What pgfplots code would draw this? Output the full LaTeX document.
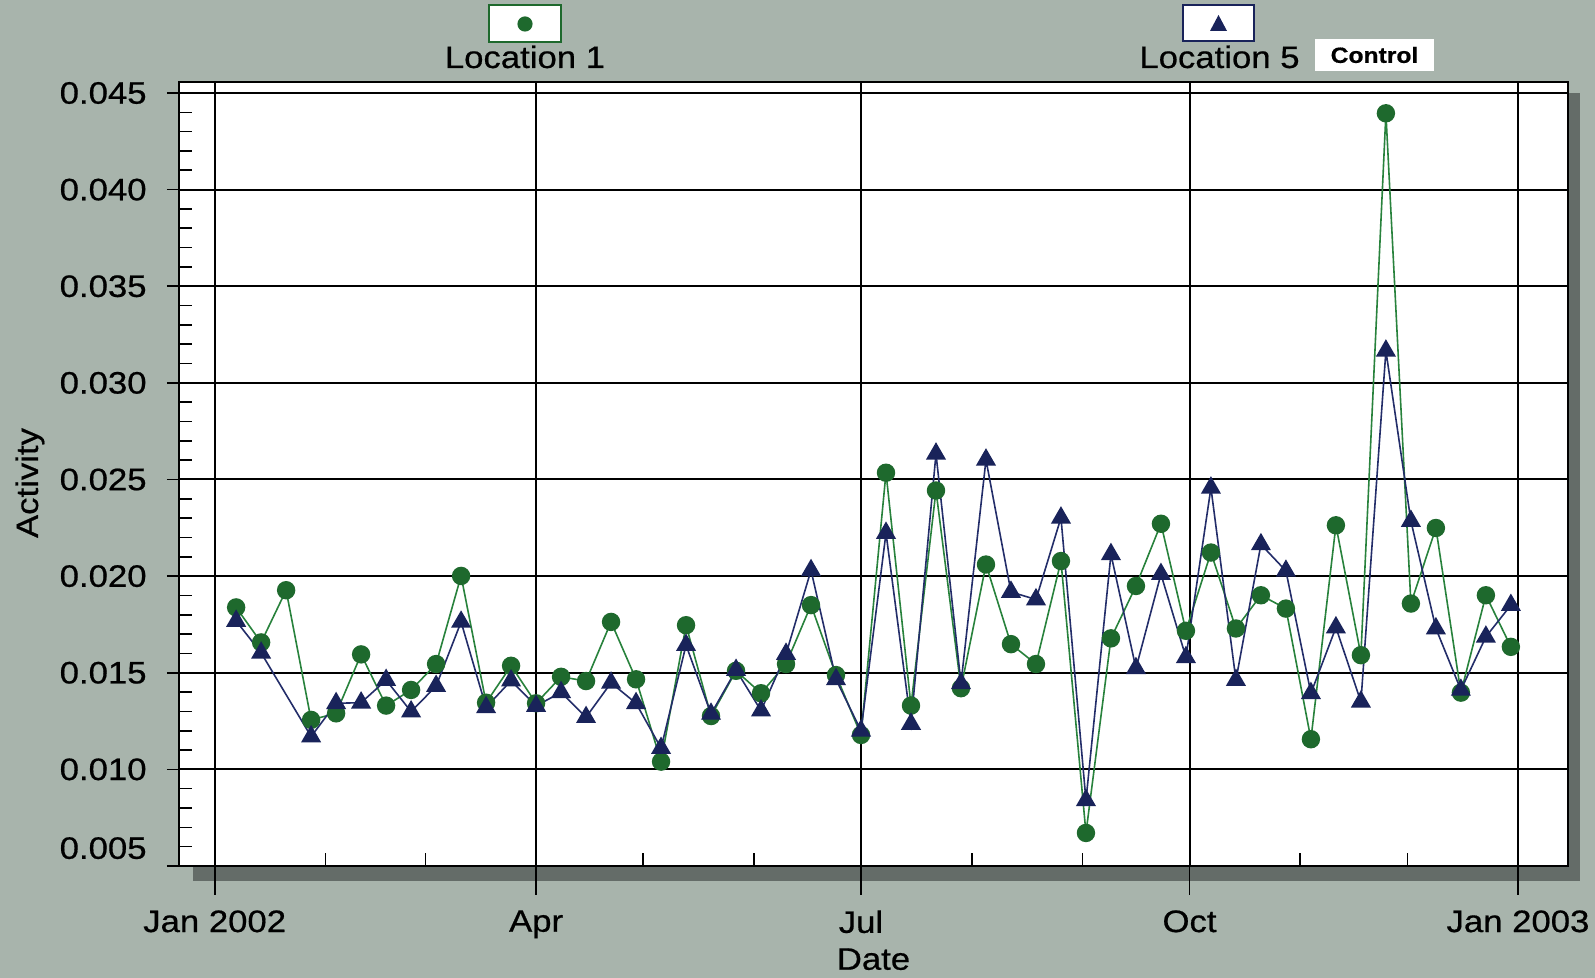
\documentclass[border=0pt]{standalone}
\usepackage{pgfplots}
\pgfplotsset{compat=1.18}
\usepackage{fontspec}
\setmainfont{Liberation Sans}[FakeStretch=1.12, FakeBold=0.6]
\definecolor{bg}{RGB}{168,180,172}
\definecolor{shadowc}{RGB}{100,108,104}
\definecolor{gline}{RGB}{40,130,60}
\definecolor{gmark}{RGB}{30,105,45}
\definecolor{bline}{RGB}{35,45,105}
\definecolor{bmark}{RGB}{25,35,90}
\begin{document}
\begin{tikzpicture}[x=0.5pt,y=0.5pt]
\path[use as bounding box, fill=bg] (-179,-112) rectangle (1416,866);
\fill[shadowc] (14,-15) rectangle (1401,773);
\begin{axis}[
  at={(0,0)}, anchor=south west,
  scale only axis, width=694.5pt, height=392pt,
  axis background/.style={fill=white},
  xmin=-10, xmax=379, ymin=0.005, ymax=0.04557,
  xtick={0,90,181,273,365},
  xticklabels={Jan 2002,Apr,Jul,Oct,Jan 2003},
  minor xtick={31,59,120,151,212,243,304,334},
  ytick={0.005,0.01,0.015,0.02,0.025,0.03,0.035,0.04,0.045},
  yticklabels={\raisebox{18pt}{0.005},0.010,0.015,0.020,0.025,0.030,0.035,0.040,0.045},
  scaled y ticks=false,
  minor y tick num=4,
  grid=major,
  major grid style={black, line width=1pt},
  tick pos=left,
  tick align=inside,
  major tick length=0pt,
  minor tick length=6.5pt,
  every tick/.style={black, line width=0.8pt},
  extra y ticks={0.005,0.01,0.015,0.02,0.025,0.03,0.035,0.04,0.045},
  extra y tick labels={,,,,,,,,},
  extra y tick style={tick align=outside, major tick length=6pt, grid=none},
  extra x ticks={0,90,181,273,365},
  extra x tick labels={,,,,},
  extra x tick style={tick align=outside, major tick length=14.5pt, grid=none},
  axis line style={black, line width=1pt},
  ticklabel style={font=\fontsize{15.5}{18}\selectfont},
  yticklabel style={anchor=east, inner sep=0pt, xshift=-16pt},
  xticklabel style={anchor=north, inner sep=0pt, yshift=-22pt},
  xlabel=Date, ylabel=Activity,
  xlabel style={at={(axis description cs:0.5,-0.1046)}, anchor=north, inner sep=0pt, font=\fontsize{15.5}{18}\selectfont},
  ylabel style={at={(axis description cs:-0.1073,0.4885)}, anchor=center, inner sep=0pt, font=\fontsize{15.5}{18}\selectfont},
]
\addplot[gline, line width=0.8pt, mark=*, mark size=4.2pt, mark options={fill=gmark, draw=gmark}] coordinates {
(6,0.01838) (13,0.01657) (20,0.01927) (27,0.01256) (34,0.0129) (41,0.01595) (48,0.0133) (55,0.01411) (62,0.01545) (69,0.02001)
(76,0.01345) (83,0.01536) (90,0.01342) (97,0.01479) (104,0.01457) (111,0.01763) (118,0.01466) (125,0.0104) (132,0.01746) (139,0.01276)
(146,0.0151) (153,0.01394) (160,0.01545) (167,0.0185) (174,0.01488) (181,0.01178) (188,0.02535) (195,0.0133) (202,0.02443) (209,0.0142)
(216,0.0206) (223,0.01648) (230,0.01545) (237,0.02078) (244,0.00671) (251,0.01678) (258,0.01949) (265,0.02271) (272,0.01717) (279,0.02122)
(286,0.01729) (293,0.01901) (300,0.01832) (307,0.01156) (314,0.02263) (321,0.01591) (328,0.04395) (335,0.01858) (342,0.02249) (349,0.01397)
(356,0.01901) (363,0.01634)
};
\addplot[bline, line width=0.8pt, mark=triangle*, mark size=5pt, mark options={fill=bmark, draw=bmark}] coordinates {
(6,0.01768) (13,0.01603) (27,0.0117) (34,0.01342) (41,0.01345) (48,0.01462) (55,0.01299) (62,0.01431) (69,0.01763)
(76,0.01321) (83,0.01459) (90,0.01328) (97,0.01399) (104,0.0127) (111,0.01448) (118,0.01342) (125,0.0111) (132,0.01643) (139,0.01287)
(146,0.01514) (153,0.01304) (160,0.01597) (167,0.0203) (174,0.01466) (181,0.0120) (188,0.02223) (195,0.01235) (202,0.02633) (209,0.01445)
(216,0.02602) (223,0.01918) (230,0.01879) (237,0.02302) (244,0.0084) (251,0.02113) (258,0.01523) (265,0.0201) (272,0.0158) (279,0.02457)
(286,0.01462) (293,0.02164) (300,0.02027) (307,0.01394) (314,0.01734) (321,0.0135) (328,0.03166) (335,0.02285) (342,0.01729) (349,0.01411)
(356,0.01686) (363,0.0185)
};
\end{axis}
% legend
\node[draw=gmark, line width=1pt, fill=white, minimum width=36pt, minimum height=18.5pt, inner sep=0pt] at (346,842) {\tikz\fill[gmark] (0,0) circle (3.8pt);};
\node[anchor=base, inner sep=0pt, font=\fontsize{15.5}{18}\selectfont] at (346,798) {Location 1};
\node[draw=bmark, line width=1pt, fill=white, minimum width=35.5pt, minimum height=18pt, inner sep=0pt] at (1039.5,843) {\tikz\fill[bmark] (0,0) -- (8.5pt,0) -- (4.25pt,8pt) -- cycle;};
\node[anchor=base, inner sep=0pt, font=\fontsize{15.5}{18}\selectfont] at (1040.5,798) {Location 5};
\node[fill=white, minimum width=59.5pt, minimum height=16pt, inner sep=0pt, font=\bfseries\fontsize{11}{13}\selectfont] at (1195.5,811) {Control};
\end{tikzpicture}
\end{document}
